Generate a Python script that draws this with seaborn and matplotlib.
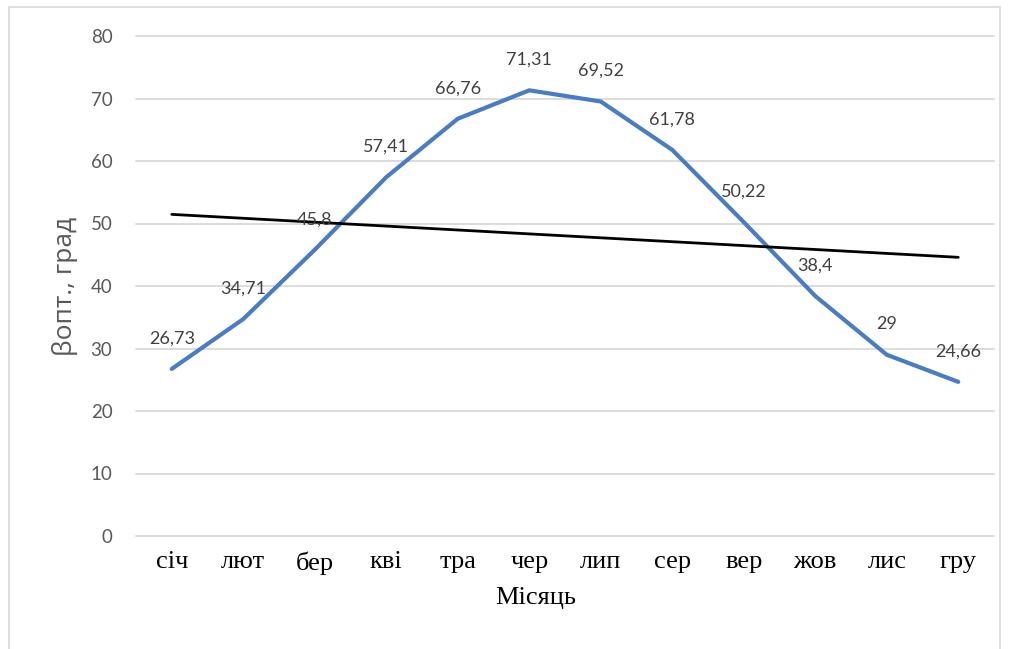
import numpy as np
import pandas as pd
import matplotlib
matplotlib.use("Agg")
import matplotlib.pyplot as plt
import seaborn as sns
from matplotlib.patches import Rectangle

# Data
months = ["січ", "лют", "бер", "кві", "тра", "чер", "лип", "сер", "вер", "жов", "лис", "гру"]
beta_opt = [26.73, 34.71, 45.8, 57.41, 66.76, 71.31, 69.52, 61.78, 50.22, 38.4, 29, 24.66]
y_ticks = [0, 10, 20, 30, 40, 50, 60, 70, 80]

sns.set_theme(style="white")
plt.rcParams['font.family'] = ['Lato', 'DejaVu Sans']

df = pd.DataFrame({"month": months, "beta": beta_opt})
df["pos"] = np.arange(len(df))

fig = plt.figure(figsize=(10.17, 6.49), dpi=100)
ax = fig.add_axes([136 / 1017, 113 / 649, 858 / 1017, 500 / 649])

# outer chart frame
fig.patches.append(Rectangle((9 / 1017, -0.05), 991 / 1017, 1.05 - 7 / 649,
                             transform=fig.transFigure, fill=False,
                             edgecolor="#d9d9d9", linewidth=1.2))

# gridlines
for t in y_ticks:
    ax.axhline(t, color="#d9d9d9", linewidth=1.3, zorder=0, clip_on=False)

sns.lineplot(data=df, x="pos", y="beta", ax=ax, color="#4A7CC0", linewidth=3.0,
             zorder=3)
# linear trend line
sns.regplot(data=df, x="pos", y="beta", ax=ax, scatter=False, ci=None,
            color="black", line_kws={"linewidth": 2.0, "zorder": 4})

# data labels
for p, v in zip(df["pos"], df["beta"]):
    txt = f"{v:g}".replace(".", ",")
    ax.annotate(txt, (p, v), xytext=(0, 22), textcoords="offset points",
                ha="center", va="center", fontsize=13, color="#404040",
                zorder=5)

ax.set_xlim(-0.5, len(months) - 0.5)
ax.set_ylim(0, 80)
ax.set_yticks(y_ticks)
ax.set_yticklabels([str(t) for t in y_ticks], fontsize=13.5, color="#595959")
ax.set_xticks(df["pos"])
ax.set_xticklabels(months, fontsize=19, family="Liberation Serif", color="black")
ax.tick_params(axis="y", length=0, pad=17)
ax.tick_params(axis="x", length=0, pad=11)
for s in ax.spines.values():
    s.set_visible(False)

ax.set_ylabel("βопт., град", fontsize=19, color="#595959", family="Open Sans")
ax.yaxis.set_label_coords(-0.083, 0.5)
ax.yaxis.label.set_va("center")
ax.set_xlabel("Місяць", fontsize=19, family="Liberation Serif", color="black")
ax.xaxis.set_label_coords(0.466, -0.124)
ax.xaxis.label.set_va("center")

fig.savefig("out.png", dpi=100, facecolor="white")
